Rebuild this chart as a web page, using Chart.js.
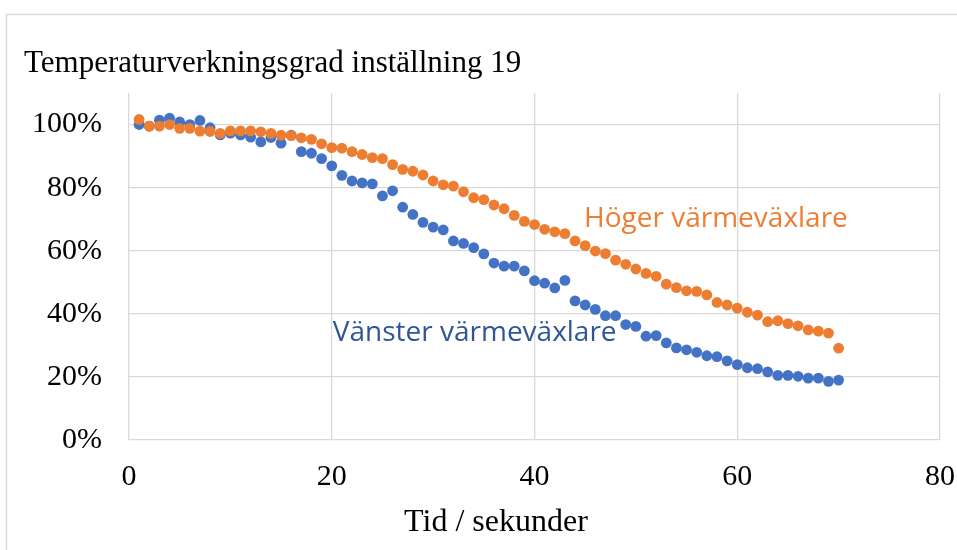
<!DOCTYPE html>
<html lang="sv">
<head>
  <meta charset="UTF-8">
  <title>Temperaturverkningsgrad inställning 19</title>
  <script src="https://cdn.jsdelivr.net/npm/chart.js"></script>
  <style>
    body {
      margin: 0;
      background: #ffffff;
    }
    #wrap {
      width: 957px;
      height: 550px;
    }
  </style>
</head>
<body>

  <div id="wrap">
    <canvas id="grafico" width="957" height="550"></canvas>
  </div>

  <script>
    // tid i sekunder, 1..70
    const tid = [
      1, 2, 3, 4, 5, 6, 7, 8, 9, 10,
      11, 12, 13, 14, 15, 16, 17, 18, 19, 20,
      21, 22, 23, 24, 25, 26, 27, 28, 29, 30,
      31, 32, 33, 34, 35, 36, 37, 38, 39, 40,
      41, 42, 43, 44, 45, 46, 47, 48, 49, 50,
      51, 52, 53, 54, 55, 56, 57, 58, 59, 60,
      61, 62, 63, 64, 65, 66, 67, 68, 69, 70
    ];

    // verkningsgrad i %
    const vanster = [
      100, 99.5, 101.4, 102, 100.8, 100, 101.3, 99, 96.7, 97.3,
      96.7, 96, 94.5, 95.9, 94.1, 96.6, 91.4, 90.9, 89.2, 86.9,
      83.9, 82.1, 81.5, 81.2, 77.4, 79, 73.8, 71.5, 69, 67.5,
      66.6, 63.1, 62.3, 61, 59, 56.1, 55.1, 55.1, 53.6, 50.5,
      49.7, 48.2, 50.6, 44.1, 42.8, 41.4, 39.4, 39.4, 36.6, 36,
      32.9, 33.1, 30.8, 29.2, 28.6, 27.8, 26.7, 26.4, 25.1, 23.9,
      22.9, 22.6, 21.6, 20.5, 20.5, 20.2, 19.6, 19.6, 18.6, 19.0
    ];

    const hoger = [
      101.6, 99.5, 99.5, 100, 98.8, 98.8, 97.9, 97.8, 97.2, 98,
      98, 98, 97.7, 97.2, 96.6, 96.5, 95.8, 95.3, 93.9, 92.7,
      92.5, 91.4, 90.5, 89.5, 89.2, 87.3, 85.8, 85.2, 84, 82.1,
      80.9, 80.5, 78.7, 76.8, 76.2, 74.5, 73.3, 71.2, 69.3, 68.3,
      66.8, 66, 65.4, 63.1, 61.6, 59.9, 59.1, 57, 55.7, 54.2,
      52.8, 51.9, 49.4, 48.3, 47.3, 47.1, 46, 43.6, 42.8, 41.8,
      40.5, 39.6, 37.5, 37.8, 36.9, 36.2, 34.9, 34.5, 33.9, 29.1
    ];

    const xTicks = [0, 20, 40, 60, 80];
    const yTicks = [0, 20, 40, 60, 80, 100];

    const titel = 'Temperaturverkningsgrad inställning 19';
    const xTitel = 'Tid / sekunder';

    // etiketter vid serierna, placerade i dataenheter
    const etiketter = [
      { text: 'Höger värmeväxlare', x: 57.9, y: 70.0, color: '#ED7D31' },
      { text: 'Vänster värmeväxlare', x: 34.1, y: 33.8, color: '#2F5597' }
    ];

    const serif = '"Liberation Serif", "DejaVu Serif", serif';

    const punkter = (xs, ys) => xs.map((x, i) => ({ x, y: ys[i] }));

    const ramOchText = {
      id: 'ramOchText',
      beforeDraw(chart) {
        const c = chart.ctx;
        c.save();
        c.strokeStyle = '#d9d9d9';
        c.lineWidth = 1.5;
        c.beginPath();
        c.moveTo(6.5, 550);
        c.lineTo(6.5, 14.5);
        c.lineTo(957, 14.5);
        c.stroke();
        c.restore();
      },
      afterDraw(chart) {
        const c = chart.ctx;
        const xs = chart.scales.x, ys = chart.scales.y;
        c.save();
        c.fillStyle = '#000';
        c.textBaseline = 'alphabetic';
        c.textAlign = 'left';
        c.font = '31px ' + serif;
        c.fillText(titel, 24, 72);

        c.textAlign = 'center';
        c.font = '32px ' + serif;
        c.fillText(xTitel, xs.getPixelForValue(36.2), 531);

        c.font = '28px "Open Sans", sans-serif';
        c.textBaseline = 'middle';
        etiketter.forEach(e => {
          c.fillStyle = e.color;
          c.fillText(e.text, xs.getPixelForValue(e.x), ys.getPixelForValue(e.y));
        });
        c.restore();
      }
    };

    const ctx = document.getElementById('grafico').getContext('2d');
    new Chart(ctx, {
      type: 'scatter',
      data: {
        datasets: [
          {
            label: 'Höger värmeväxlare',
            data: punkter(tid, hoger),
            backgroundColor: '#ED7D31',
            borderWidth: 0,
            pointRadius: 5.4,
            pointHoverRadius: 5.4
          },
          {
            label: 'Vänster värmeväxlare',
            data: punkter(tid, vanster),
            backgroundColor: '#4472C4',
            borderWidth: 0,
            pointRadius: 5.4,
            pointHoverRadius: 5.4
          }
        ]
      },
      options: {
        responsive: false,
        animation: false,
        layout: { padding: { left: 0, right: 17, top: 93, bottom: 0 } },
        plugins: {
          legend: { display: false },
          title: { display: false },
          tooltip: { enabled: false }
        },
        scales: {
          x: {
            type: 'linear',
            min: 0,
            max: 80,
            afterBuildTicks: s => { s.ticks = xTicks.map(v => ({ value: v })); },
            afterFit: s => {
              s.height = 110;
              s.paddingLeft = 0;
              s.paddingRight = 0;
            },
            grid: { color: '#d9d9d9', lineWidth: 1.3, drawTicks: false },
            border: { display: false },
            ticks: {
              padding: 19,
              color: '#000',
              font: { family: serif, size: 30 }
            }
          },
          y: {
            min: 0,
            max: 110,
            afterBuildTicks: s => { s.ticks = yTicks.map(v => ({ value: v })); },
            afterFit: s => { s.width = 129; },
            grid: { color: '#d9d9d9', lineWidth: 1.3, drawTicks: false },
            border: { display: false },
            ticks: {
              padding: 27,
              color: '#000',
              font: { family: serif, size: 30 },
              callback: v => v + '%'
            }
          }
        }
      },
      plugins: [ramOchText]
    });
  </script>

</body>
</html>
